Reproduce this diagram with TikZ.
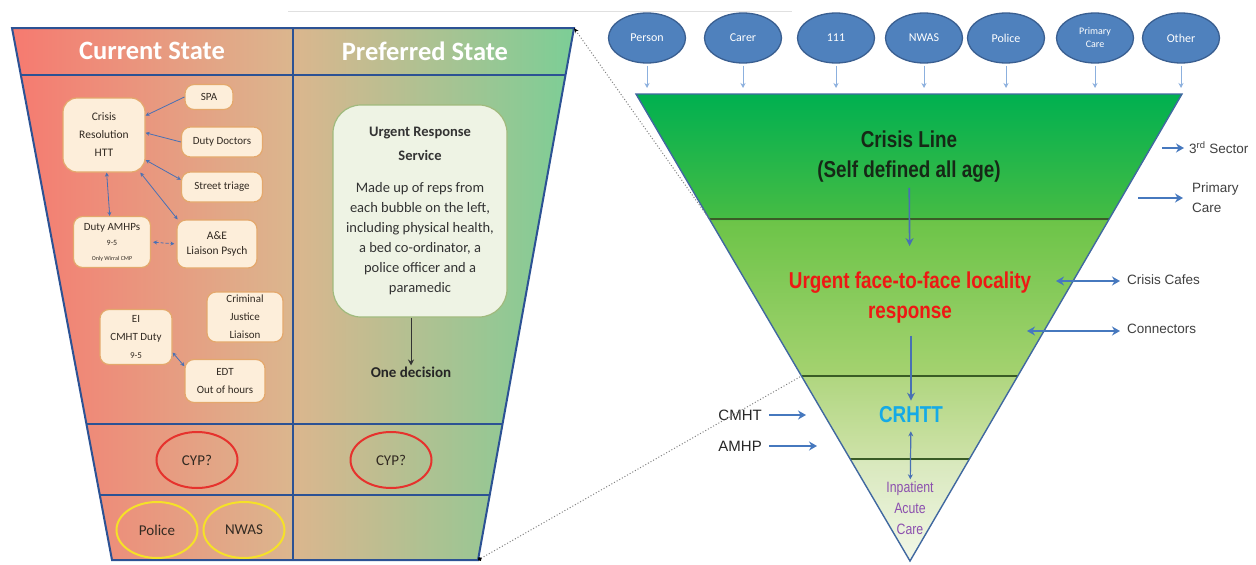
\documentclass[tikz,border=0pt]{standalone}
\usepackage{fontspec}
\setmainfont{Carlito}
\newfontfamily\arialf{Liberation Sans}
\newfontfamily\narrowf{Liberation Sans}[FakeStretch=0.82]
\usetikzlibrary{arrows.meta,shapes.geometric,calc}
\definecolor{lred}{RGB}{246,122,112}
\definecolor{ltan}{RGB}{219,182,142}
\definecolor{lgreen}{RGB}{124,206,150}
\definecolor{pblue}{RGB}{44,82,148}
\definecolor{boxfill}{RGB}{253,238,218}
\definecolor{boxdraw}{RGB}{228,168,108}
\definecolor{boxtext}{RGB}{50,42,34}
\definecolor{arrblue}{RGB}{72,112,180}
\definecolor{ellfill}{RGB}{79,129,189}
\definecolor{elldraw}{RGB}{58,95,145}
\definecolor{lightarr}{RGB}{140,176,222}
\definecolor{divline}{RGB}{58,92,38}
\definecolor{fedge}{RGB}{64,104,160}
\definecolor{crred}{RGB}{238,24,20}
\definecolor{crcyan}{RGB}{20,170,230}
\definecolor{ipurple}{RGB}{140,80,175}
\definecolor{lbl}{RGB}{64,64,64}
\definecolor{cypred}{RGB}{230,50,45}
\definecolor{yel}{RGB}{245,225,40}
\definecolor{ursfill}{RGB}{238,243,228}
\definecolor{ursdraw}{RGB}{160,186,125}
\definecolor{cldark}{RGB}{22,40,22}
\definecolor{sarrc}{RGB}{70,120,190}
\definecolor{f1t}{RGB}{0,176,80}
\definecolor{f1b}{RGB}{70,188,68}
\definecolor{f2t}{RGB}{108,196,72}
\definecolor{f2b}{RGB}{165,210,112}
\definecolor{f3t}{RGB}{176,214,128}
\definecolor{f3b}{RGB}{206,226,168}
\definecolor{f4t}{RGB}{216,232,188}
\definecolor{f4b}{RGB}{242,247,232}
\pgfdeclareverticalshading{funnelshade}{100bp}{%
color(0bp)=(f4b); color(25bp)=(f4b); color(35.8bp)=(f4t); color(35.9bp)=(f3b); color(44.7bp)=(f3t); color(44.8bp)=(f2b); color(61.5bp)=(f2t); color(61.6bp)=(f1b); color(75bp)=(f1t); color(100bp)=(f1t)}
\begin{document}
\begin{tikzpicture}[x=1pt,y=-1pt,
  box/.style={draw=boxdraw, fill=boxfill, line width=1.2pt, rounded corners=9pt, inner sep=0pt, align=center, text=boxtext, font=\fontsize{11}{17}\selectfont},
  larr/.style={draw=arrblue, line width=0.8pt, -{Stealth[length=4pt,width=4pt]}},
  dlarr/.style={draw=arrblue, line width=0.8pt, {Stealth[length=4pt,width=4pt]}-{Stealth[length=4pt,width=4pt]}},
  ell/.style={ellipse, line width=2pt, minimum width=81pt, minimum height=56pt, inner sep=0pt, text=boxtext},
  hdr/.style={text=white, font=\fontsize{26.5}{30}\selectfont\bfseries, inner sep=0pt},
  pline/.style={draw=pblue, line width=2pt},
  topell/.style={ellipse, fill=ellfill, draw=elldraw, line width=1.3pt, minimum width=77pt, minimum height=50pt, inner sep=0pt, text=white, align=center, font=\fontsize{12}{13}\selectfont},
  tarr/.style={draw=lightarr, line width=1pt, -{Stealth[length=5pt,width=5pt]}, shorten <=2pt, shorten >=6pt},
  ftxt/.style={align=center, inner sep=0pt, font=\narrowf\bfseries\fontsize{23}{30}\selectfont},
  farr/.style={draw=arrblue, line width=1.6pt, -{Stealth[length=8pt,width=8pt]}},
  sarr/.style={draw=sarrc, line width=2.5pt, -{Stealth[length=8pt,width=9pt]}},
  dsarr/.style={draw=sarrc, line width=2.5pt, {Stealth[length=8pt,width=9pt]}-{Stealth[length=8pt,width=9pt]}},
  slbl/.style={inner sep=0pt, text=lbl, font=\arialf\fontsize{13.5}{20}\selectfont, align=left},
  dotl/.style={draw=black!50, dotted, line width=1pt}]
\useasboundingbox (0,0) rectangle (1256,565);
\fill[white] (0,0) rectangle (1256,565);
\draw[line width=0.8pt, black!12] (288,11) -- (792,11);
% ---------------- left panel
\path[left color=lred, right color=lgreen, middle color=ltan] (12,28) -- (574,28) -- (478,560) -- (112,560) -- cycle;
\draw[pline] (12,28) -- (574,28) -- (478,560) -- (112,560) -- cycle;
\draw[pline] (20.8,75) -- (565.5,75);
\draw[pline] (86.4,424) -- (502.5,424);
\draw[pline] (99.8,495) -- (489.7,495);
\draw[pline] (293,28) -- (293,560);
\node[hdr] (hcur) at (152,51) {Current State};
\node[hdr] (hpref) at (425,51) {Preferred State};
\node[box, minimum width=82pt, minimum height=74pt, rounded corners=14pt, font=\fontsize{11.5}{18}\selectfont] (crt) at (104,135) {Crisis\\Resolution\\HTT};
\node[box, minimum width=48pt, minimum height=25pt] (spa) at (209,97) {SPA};
\node[box, minimum width=81pt, minimum height=30pt] (dd) at (222,142) {Duty Doctors};
\node[box, minimum width=81pt, minimum height=30pt] (st) at (222,187) {Street triage};
\node[box, minimum width=77pt, minimum height=51pt, font=\fontsize{11}{15}\selectfont] (amhp) at (112,242) {Duty AMHPs\\{\fontsize{8}{10}\selectfont 9-5}\\{\fontsize{6}{8}\selectfont Only Wirral CMP}};
\node[box, minimum width=80pt, minimum height=48pt, font=\fontsize{11.5}{15}\selectfont] (ae) at (217,244) {A\&E\\Liaison Psych};
\node[box, minimum width=76pt, minimum height=50pt, font=\fontsize{11}{18}\selectfont] (cjl) at (245,317) {Criminal\\Justice\\Liaison};
\node[box, minimum width=72pt, minimum height=55pt, font=\fontsize{11}{18}\selectfont] (ei) at (136,337) {EI\\CMHT Duty\\{\fontsize{9}{10}\selectfont 9-5}};
\node[box, minimum width=80pt, minimum height=43pt, font=\fontsize{11}{18}\selectfont] (edt) at (225,381) {EDT\\Out of hours};
\draw[larr] (spa.west) -- (crt.25);
\draw[larr] (dd.west) -- (crt.3);
\draw[dlarr] (crt.-31) -- (st.170);
\draw[dlarr] (crt.-46) -- (ae.148);
\draw[dlarr] (crt.-86) -- (amhp.95);
\draw[dlarr, densely dashed, shorten <=2pt, shorten >=2pt] (amhp.east) -- (ae.west);
\draw[dlarr] (ei.-23) -- (edt.160);
\node[ell, draw=cypred, font=\fontsize{15}{16}\selectfont] (cyp1) at (197,460) {CYP?};
\node[ell, draw=yel, font=\fontsize{15}{16}\selectfont] (pol) at (157,530) {Police};
\node[ell, draw=yel, font=\fontsize{15}{16}\selectfont] (nwas1) at (244,530) {NWAS};
\node[ell, draw=cypred, font=\fontsize{15}{16}\selectfont] (cyp2) at (391,460) {CYP?};
\node[draw=ursdraw, fill=ursfill, line width=1.2pt, rounded corners=28pt, minimum width=174pt, minimum height=212pt, inner sep=0pt, align=center, text=black!80, font=\fontsize{14.5}{20}\selectfont] (urs) at (420,211) {\textbf{Urgent Response}\\[4pt]\textbf{Service}\\[12pt]Made up of reps from\\each bubble on the left,\\including physical health,\\a bed co-ordinator, a\\police officer and a\\paramedic};
\node[inner sep=1pt, font=\fontsize{15}{18}\selectfont\bfseries, text=black!85] (dec) at (411,372) {One decision};
\draw[-{Stealth[length=6pt,width=6pt]}, line width=1pt, black!80] (urs.south -| dec) -- (dec);
% ---------------- funnel
\path[shading=funnelshade] (636,94) -- (1182,94) -- (910,561) -- cycle;
\draw[draw=divline, line width=2.5pt] (709.3,219) -- (1109.2,219);
\draw[draw=divline, line width=2.5pt] (801.5,376) -- (1017.8,376);
\draw[draw=divline, line width=2.5pt] (850.2,459) -- (969.4,459);
\draw[draw=fedge, line width=1.4pt, line join=miter] (636,94) -- (1182,94) -- (910,561) -- cycle;
\coordinate (ftl) at (636,94);
\node[topell] (e1) at (647,38) {Person};
\node[topell] (e2) at (743,38) {Carer};
\node[topell] (e3) at (836,38) {111};
\node[topell] (e4) at (924,38) {NWAS};
\node[topell] (e5) at (1006,38) {Police};
\node[topell, font=\fontsize{10}{13}\selectfont] (e6) at (1095,38) {Primary\\Care};
\node[topell] (e7) at (1181,38) {Other};
\foreach \e in {e1,e2,e3,e4,e5,e6,e7} \draw[tarr] (\e.south) -- (\e.south |- ftl);
\node[ftxt, text=cldark] (cl) at (909,157) {Crisis Line\\(Self defined all age)};
\node[ftxt, text=crred] (uf) at (910,298) {Urgent face-to-face locality\\response};
\node[ftxt, text=crcyan] (crh) at (911,415) {CRHTT};
\node[align=center, inner sep=0pt, text=ipurple, font=\narrowf\fontsize{15}{21}\selectfont] (inp) at (910,508) {Inpatient\\Acute\\Care};
\draw[farr, shorten <=5pt, shorten >=26pt] (cl) -- (uf);
\draw[farr, shorten <=12pt, shorten >=6pt] (uf.south -| crh) -- (crh);
\draw[draw=arrblue, line width=1.2pt, {Stealth[length=5pt,width=5pt]}-{Stealth[length=5pt,width=5pt]}, shorten <=8pt, shorten >=2pt] (crh) -- (inp);
% side labels
\node[slbl, anchor=west] (sec) at (1189,148) {3\textsuperscript{rd} Sector};
\node[slbl, anchor=west] (pc) at (1192,198) {Primary\\Care};
\node[slbl, anchor=west] (cc) at (1127,280) {Crisis Cafes};
\node[slbl, anchor=west] (con) at (1127,329) {Connectors};
\node[slbl, anchor=east, text=black!85, font=\arialf\fontsize{15}{18}\selectfont] (cmht) at (762,415) {CMHT};
\node[slbl, anchor=east, text=black!85, font=\arialf\fontsize{15}{18}\selectfont] (amhp2) at (762,446) {AMHP};
\coordinate (secs) at (1162,148);
\coordinate (pcs) at (1138,198);
\coordinate (ccs) at (1056,281);
\coordinate (cons) at (1027,331);
\coordinate (cmhte) at (806,415);
\coordinate (amhpe) at (817,446);
\draw[sarr, shorten >=5pt] (secs) -- (sec.west);
\draw[sarr, shorten >=9pt] (pcs) -- (pc.west);
\draw[dsarr, shorten >=7pt] (ccs) -- (cc.west |- ccs);
\draw[dsarr, shorten >=7pt] (cons) -- (con.west |- cons);
\draw[sarr, shorten <=7pt] (cmht.east) -- (cmhte);
\draw[sarr, shorten <=7pt] (amhp2.east) -- (amhpe);
% dotted links
\coordinate (lt) at (574,28);
\coordinate (ftc) at (709.3,219);
\coordinate (lb) at (478,560);
\coordinate (fmc) at (801.5,376);
\draw[dotl, {Stealth[length=5pt,width=4pt,black]}-] (lt) -- (ftc);
\draw[dotl, {Circle[length=4pt,black]}-] (lb) -- (fmc);
\end{tikzpicture}
\end{document}
